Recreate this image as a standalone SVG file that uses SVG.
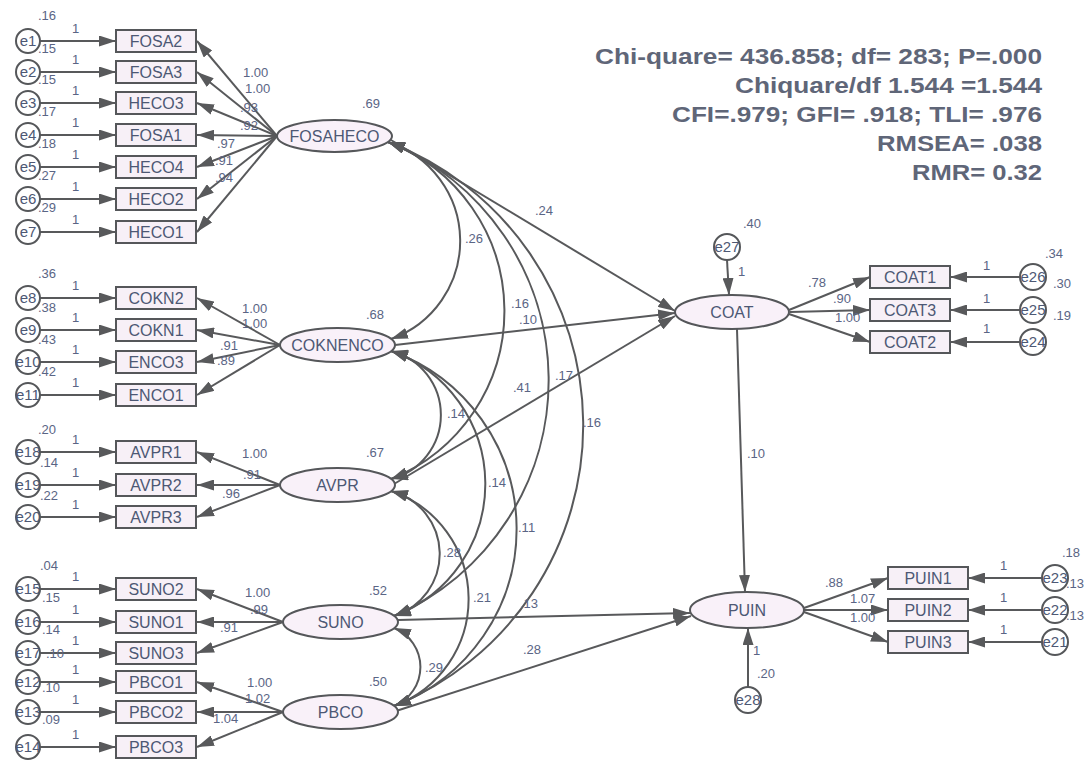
<svg xmlns="http://www.w3.org/2000/svg" width="1084" height="763" viewBox="0 0 1084 763">
<style>
.bx{fill:#f7f0f7;stroke:#55575a;stroke-width:2}
.el{fill:#f9f1f9;stroke:#55575a;stroke-width:2}
.er{fill:#fff;stroke:#55575a;stroke-width:2}
.nt{font-family:"Liberation Sans",Arial,sans-serif;font-size:16px;fill:#4d5874;text-anchor:middle}
.et{font-family:"Liberation Sans",Arial,sans-serif;font-size:15px;fill:#4d5874;text-anchor:middle}
.lb{font-family:"Liberation Sans",Arial,sans-serif;font-size:13px;fill:#5a6585}
.fit{font-family:"Liberation Sans",Arial,sans-serif;font-size:22px;font-weight:bold;fill:#5f6678;text-anchor:end}
.ln{fill:none;stroke:#58595b;stroke-width:2;marker-end:url(#ah)}
.cv{fill:none;stroke:#58595b;stroke-width:2;marker-start:url(#ah);marker-end:url(#ah)}
</style>
<defs>
<marker id="ah" viewBox="0 0 17 11" refX="17" refY="5.5" markerWidth="17" markerHeight="11" markerUnits="userSpaceOnUse" orient="auto-start-reverse"><path d="M0,0 L17,5.5 L0,11 z" fill="#58595b"/></marker>
</defs>
<rect width="1084" height="763" fill="#fff"/>

<g id="fit-indices">
<text class="fit" x="1042" y="64" textLength="447" lengthAdjust="spacingAndGlyphs">Chi-quare= 436.858; df= 283; P=.000</text>
<text class="fit" x="1042" y="93" textLength="307" lengthAdjust="spacingAndGlyphs">Chiquare/df 1.544 =1.544</text>
<text class="fit" x="1042" y="122" textLength="370" lengthAdjust="spacingAndGlyphs">CFI=.979; GFI= .918; TLI= .976</text>
<text class="fit" x="1042" y="151" textLength="165" lengthAdjust="spacingAndGlyphs">RMSEA= .038</text>
<text class="fit" x="1042" y="180" textLength="130" lengthAdjust="spacingAndGlyphs">RMR= 0.32</text>
</g>

<g id="connectors">
<path class="ln" d="M40,41 L116,41"/>
<path class="ln" d="M40,72 L116,72"/>
<path class="ln" d="M40,103 L116,103"/>
<path class="ln" d="M40,135 L116,135"/>
<path class="ln" d="M40,167 L116,167"/>
<path class="ln" d="M40,199 L116,199"/>
<path class="ln" d="M40,232 L116,232"/>
<path class="ln" d="M40,298 L116,298"/>
<path class="ln" d="M40,330 L116,330"/>
<path class="ln" d="M40,362 L116,362"/>
<path class="ln" d="M40,395 L116,395"/>
<path class="ln" d="M40,452 L116,452"/>
<path class="ln" d="M40,485 L116,485"/>
<path class="ln" d="M40,517 L116,517"/>
<path class="ln" d="M40,589 L116,589"/>
<path class="ln" d="M40,622 L116,622"/>
<path class="ln" d="M40,653 L116,653"/>
<path class="ln" d="M40,682 L116,682"/>
<path class="ln" d="M40,712 L116,712"/>
<path class="ln" d="M40,747 L116,747"/>
<path class="ln" d="M277,136 L197,41"/>
<path class="ln" d="M277,136 L197,72"/>
<path class="ln" d="M277,136 L197,103"/>
<path class="ln" d="M277,136 L197,135"/>
<path class="ln" d="M277,136 L197,167"/>
<path class="ln" d="M277,136 L197,199"/>
<path class="ln" d="M277,136 L197,232"/>
<path class="ln" d="M280,345 L197,298"/>
<path class="ln" d="M280,345 L197,330"/>
<path class="ln" d="M280,345 L197,362"/>
<path class="ln" d="M280,345 L197,395"/>
<path class="ln" d="M280,485 L197,452"/>
<path class="ln" d="M280,485 L197,485"/>
<path class="ln" d="M280,485 L197,517"/>
<path class="ln" d="M283,622 L197,589"/>
<path class="ln" d="M283,622 L197,622"/>
<path class="ln" d="M283,622 L197,653"/>
<path class="ln" d="M283,712 L197,682"/>
<path class="ln" d="M283,712 L197,712"/>
<path class="ln" d="M283,712 L197,747"/>
<path class="cv" d="M388,142 A104,104 0 0 1 391,339"/>
<path class="cv" d="M388,142 A181,181 0 0 1 391,479"/>
<path class="cv" d="M388,142 A257,257 0 0 1 394,616"/>
<path class="cv" d="M388,142 A303,303 0 0 1 394,706"/>
<path class="cv" d="M391,351 A66,66 0 0 1 391,479"/>
<path class="cv" d="M391,351 A141,141 0 0 1 394,616"/>
<path class="cv" d="M391,351 A189,189 0 0 1 394,706"/>
<path class="cv" d="M391,491 A65,65 0 0 1 394,616"/>
<path class="cv" d="M391,491 A114,114 0 0 1 394,706"/>
<path class="cv" d="M394,628 A42,42 0 0 1 394,706"/>
<path class="ln" d="M391,140 L675,311"/>
<path class="ln" d="M395,345 L675,313"/>
<path class="ln" d="M394,484 L675,316"/>
<path class="ln" d="M398,620 L690,613"/>
<path class="ln" d="M396,711 L691,616"/>
<path class="ln" d="M737,329 L745,592"/>
<path class="ln" d="M727,260 L729,295"/>
<path class="ln" d="M748,687 L748,628"/>
<path class="ln" d="M789,310 L870,277"/>
<path class="ln" d="M790,312 L870,310"/>
<path class="ln" d="M789,314 L870,342"/>
<path class="ln" d="M1020,277 L950,277"/>
<path class="ln" d="M1020,310 L950,310"/>
<path class="ln" d="M1020,342 L950,342"/>
<path class="ln" d="M804,608 L888,578"/>
<path class="ln" d="M804,610 L888,610"/>
<path class="ln" d="M804,612 L888,642"/>
<path class="ln" d="M1042,578 L968,578"/>
<path class="ln" d="M1042,610 L968,610"/>
<path class="ln" d="M1042,642 L968,642"/>
</g>

<g id="FOSAHECO"><ellipse class="el" cx="334.5" cy="136" rx="57.5" ry="16"/><text class="nt" x="334.5" y="142">FOSAHECO</text></g>
<g id="COKNENCO"><ellipse class="el" cx="337.5" cy="345" rx="57.5" ry="17"/><text class="nt" x="337.5" y="351">COKNENCO</text></g>
<g id="AVPR"><ellipse class="el" cx="337.5" cy="485" rx="57.5" ry="17"/><text class="nt" x="337.5" y="491">AVPR</text></g>
<g id="SUNO"><ellipse class="el" cx="340.5" cy="622" rx="57.5" ry="17"/><text class="nt" x="340.5" y="628">SUNO</text></g>
<g id="PBCO"><ellipse class="el" cx="340.5" cy="712" rx="57.5" ry="17"/><text class="nt" x="340.5" y="718">PBCO</text></g>
<g id="COAT"><ellipse class="el" cx="732" cy="312" rx="57" ry="17"/><text class="nt" x="732" y="318">COAT</text></g>
<g id="PUIN"><ellipse class="el" cx="747" cy="610" rx="57" ry="18"/><text class="nt" x="747" y="616">PUIN</text></g>

<g id="FOSA2"><rect class="bx" x="116" y="30" width="80" height="22"/><text class="nt" x="156" y="47">FOSA2</text></g>
<g id="FOSA3"><rect class="bx" x="116" y="61" width="80" height="22"/><text class="nt" x="156" y="78">FOSA3</text></g>
<g id="HECO3"><rect class="bx" x="116" y="92" width="80" height="22"/><text class="nt" x="156" y="109">HECO3</text></g>
<g id="FOSA1"><rect class="bx" x="116" y="124" width="80" height="22"/><text class="nt" x="156" y="141">FOSA1</text></g>
<g id="HECO4"><rect class="bx" x="116" y="156" width="80" height="22"/><text class="nt" x="156" y="173">HECO4</text></g>
<g id="HECO2"><rect class="bx" x="116" y="188" width="80" height="22"/><text class="nt" x="156" y="205">HECO2</text></g>
<g id="HECO1"><rect class="bx" x="116" y="221" width="80" height="22"/><text class="nt" x="156" y="238">HECO1</text></g>
<g id="COKN2"><rect class="bx" x="116" y="287" width="80" height="22"/><text class="nt" x="156" y="304">COKN2</text></g>
<g id="COKN1"><rect class="bx" x="116" y="319" width="80" height="22"/><text class="nt" x="156" y="336">COKN1</text></g>
<g id="ENCO3"><rect class="bx" x="116" y="351" width="80" height="22"/><text class="nt" x="156" y="368">ENCO3</text></g>
<g id="ENCO1"><rect class="bx" x="116" y="384" width="80" height="22"/><text class="nt" x="156" y="401">ENCO1</text></g>
<g id="AVPR1"><rect class="bx" x="116" y="441" width="80" height="22"/><text class="nt" x="156" y="458">AVPR1</text></g>
<g id="AVPR2"><rect class="bx" x="116" y="474" width="80" height="22"/><text class="nt" x="156" y="491">AVPR2</text></g>
<g id="AVPR3"><rect class="bx" x="116" y="506" width="80" height="22"/><text class="nt" x="156" y="523">AVPR3</text></g>
<g id="SUNO2"><rect class="bx" x="116" y="578" width="80" height="22"/><text class="nt" x="156" y="595">SUNO2</text></g>
<g id="SUNO1"><rect class="bx" x="116" y="611" width="80" height="22"/><text class="nt" x="156" y="628">SUNO1</text></g>
<g id="SUNO3"><rect class="bx" x="116" y="642" width="80" height="22"/><text class="nt" x="156" y="659">SUNO3</text></g>
<g id="PBCO1"><rect class="bx" x="116" y="671" width="80" height="22"/><text class="nt" x="156" y="688">PBCO1</text></g>
<g id="PBCO2"><rect class="bx" x="116" y="701" width="80" height="22"/><text class="nt" x="156" y="718">PBCO2</text></g>
<g id="PBCO3"><rect class="bx" x="116" y="736" width="80" height="22"/><text class="nt" x="156" y="753">PBCO3</text></g>
<g id="COAT1"><rect class="bx" x="870" y="266" width="80" height="22"/><text class="nt" x="910" y="283">COAT1</text></g>
<g id="COAT3"><rect class="bx" x="870" y="299" width="80" height="22"/><text class="nt" x="910" y="316">COAT3</text></g>
<g id="COAT2"><rect class="bx" x="870" y="331" width="80" height="22"/><text class="nt" x="910" y="348">COAT2</text></g>
<g id="PUIN1"><rect class="bx" x="888" y="567" width="80" height="22"/><text class="nt" x="928" y="584">PUIN1</text></g>
<g id="PUIN2"><rect class="bx" x="888" y="599" width="80" height="22"/><text class="nt" x="928" y="616">PUIN2</text></g>
<g id="PUIN3"><rect class="bx" x="888" y="631" width="80" height="22"/><text class="nt" x="928" y="648">PUIN3</text></g>

<g id="e1"><circle class="er" cx="28" cy="41" r="12"/><text class="et" x="28" y="46">e1</text></g>
<g id="e2"><circle class="er" cx="28" cy="72" r="12"/><text class="et" x="28" y="77">e2</text></g>
<g id="e3"><circle class="er" cx="28" cy="103" r="12"/><text class="et" x="28" y="108">e3</text></g>
<g id="e4"><circle class="er" cx="28" cy="135" r="12"/><text class="et" x="28" y="140">e4</text></g>
<g id="e5"><circle class="er" cx="28" cy="167" r="12"/><text class="et" x="28" y="172">e5</text></g>
<g id="e6"><circle class="er" cx="28" cy="199" r="12"/><text class="et" x="28" y="204">e6</text></g>
<g id="e7"><circle class="er" cx="28" cy="232" r="12"/><text class="et" x="28" y="237">e7</text></g>
<g id="e8"><circle class="er" cx="28" cy="298" r="12"/><text class="et" x="28" y="303">e8</text></g>
<g id="e9"><circle class="er" cx="28" cy="330" r="12"/><text class="et" x="28" y="335">e9</text></g>
<g id="e10"><circle class="er" cx="28" cy="362" r="12"/><text class="et" x="28" y="367">e10</text></g>
<g id="e11"><circle class="er" cx="28" cy="395" r="12"/><text class="et" x="28" y="400">e11</text></g>
<g id="e18"><circle class="er" cx="28" cy="452" r="12"/><text class="et" x="28" y="457">e18</text></g>
<g id="e19"><circle class="er" cx="28" cy="485" r="12"/><text class="et" x="28" y="490">e19</text></g>
<g id="e20"><circle class="er" cx="28" cy="517" r="12"/><text class="et" x="28" y="522">e20</text></g>
<g id="e15"><circle class="er" cx="28" cy="589" r="12"/><text class="et" x="28" y="594">e15</text></g>
<g id="e16"><circle class="er" cx="28" cy="622" r="12"/><text class="et" x="28" y="627">e16</text></g>
<g id="e17"><circle class="er" cx="28" cy="653" r="12"/><text class="et" x="28" y="658">e17</text></g>
<g id="e12"><circle class="er" cx="28" cy="682" r="12"/><text class="et" x="28" y="687">e12</text></g>
<g id="e13"><circle class="er" cx="28" cy="712" r="12"/><text class="et" x="28" y="717">e13</text></g>
<g id="e14"><circle class="er" cx="28" cy="747" r="12"/><text class="et" x="28" y="752">e14</text></g>
<g id="e26"><circle class="er" cx="1033" cy="277" r="13"/><text class="et" x="1033" y="282">e26</text></g>
<g id="e25"><circle class="er" cx="1033" cy="310" r="13"/><text class="et" x="1033" y="315">e25</text></g>
<g id="e24"><circle class="er" cx="1033" cy="342" r="13"/><text class="et" x="1033" y="347">e24</text></g>
<g id="e23"><circle class="er" cx="1055" cy="578" r="13"/><text class="et" x="1055" y="583">e23</text></g>
<g id="e22"><circle class="er" cx="1055" cy="610" r="13"/><text class="et" x="1055" y="615">e22</text></g>
<g id="e21"><circle class="er" cx="1055" cy="642" r="13"/><text class="et" x="1055" y="647">e21</text></g>
<g id="e27"><circle class="er" cx="727" cy="247" r="13"/><text class="et" x="727" y="252">e27</text></g>
<g id="e28"><circle class="er" cx="748" cy="700" r="13"/><text class="et" x="748" y="705">e28</text></g>

<g id="labels" class="lb">
<text x="72" y="33">1</text><text x="72" y="64">1</text><text x="72" y="95">1</text><text x="72" y="127">1</text><text x="72" y="159">1</text><text x="72" y="191">1</text><text x="72" y="224">1</text>
<text x="72" y="290">1</text><text x="72" y="322">1</text><text x="72" y="354">1</text><text x="72" y="387">1</text>
<text x="72" y="444">1</text><text x="72" y="477">1</text><text x="72" y="509">1</text>
<text x="72" y="581">1</text><text x="72" y="614">1</text><text x="72" y="645">1</text><text x="72" y="674">1</text><text x="72" y="704">1</text><text x="72" y="739">1</text>
<text x="38" y="20">.16</text><text x="38" y="53">.15</text><text x="38" y="84">.15</text><text x="38" y="116">.17</text><text x="38" y="148">.18</text><text x="38" y="180">.27</text><text x="38" y="212">.29</text>
<text x="38" y="278">.36</text><text x="38" y="312">.38</text><text x="38" y="344">.43</text><text x="38" y="376">.42</text>
<text x="38" y="434">.20</text><text x="40" y="467">.14</text><text x="40" y="500">.22</text>
<text x="40" y="570">.04</text><text x="42" y="602">.15</text><text x="42" y="634">.14</text><text x="46" y="658">.10</text><text x="42" y="692">.10</text><text x="42" y="724">.09</text>
<text x="243" y="77">1.00</text><text x="245" y="93">1.00</text><text x="240" y="112">.93</text><text x="240" y="130">.92</text><text x="217" y="148">.97</text><text x="215" y="165">.91</text><text x="215" y="182">.94</text>
<text x="242" y="313">1.00</text><text x="242" y="328">1.00</text><text x="220" y="350">.91</text><text x="217" y="365">.89</text>
<text x="242" y="458">1.00</text><text x="243" y="479">.91</text><text x="222" y="498">.96</text>
<text x="245" y="597">1.00</text><text x="250" y="614">.99</text><text x="220" y="632">.91</text>
<text x="247" y="687">1.00</text><text x="245" y="703">1.02</text><text x="213" y="723">1.04</text>
<text x="362" y="108">.69</text><text x="366" y="319">.68</text><text x="366" y="457">.67</text><text x="369" y="595">.52</text><text x="369" y="686">.50</text>
<text x="465" y="243">.26</text>
<text x="511" y="308">.16</text><text x="519" y="324">.10</text>
<text x="535" y="215">.24</text>
<text x="555" y="380">.17</text>
<text x="513" y="392">.41</text>
<text x="583" y="427">.16</text>
<text x="447" y="418">.14</text>
<text x="488" y="487">.14</text>
<text x="518" y="532">.11</text>
<text x="443" y="557">.28</text>
<text x="473" y="602">.21</text>
<text x="520" y="608">.13</text>
<text x="523" y="654">.28</text>
<text x="425" y="672">.29</text>
<text x="747" y="458">.10</text>
<text x="743" y="228">.40</text><text x="738" y="276">1</text>
<text x="808" y="287">.78</text><text x="833" y="303">.90</text><text x="835" y="322">1.00</text>
<text x="983" y="270">1</text><text x="983" y="303">1</text><text x="983" y="333">1</text>
<text x="1045" y="258">.34</text><text x="1053" y="288">.30</text><text x="1053" y="320">.19</text>
<text x="825" y="587">.88</text><text x="850" y="603">1.07</text><text x="850" y="622">1.00</text>
<text x="1000" y="570">1</text><text x="1000" y="602">1</text><text x="1000" y="634">1</text>
<text x="1062" y="557">.18</text><text x="1066" y="588">.13</text><text x="1066" y="620">.13</text>
<text x="753" y="655">1</text><text x="757" y="678">.20</text>
</g>
</svg>
